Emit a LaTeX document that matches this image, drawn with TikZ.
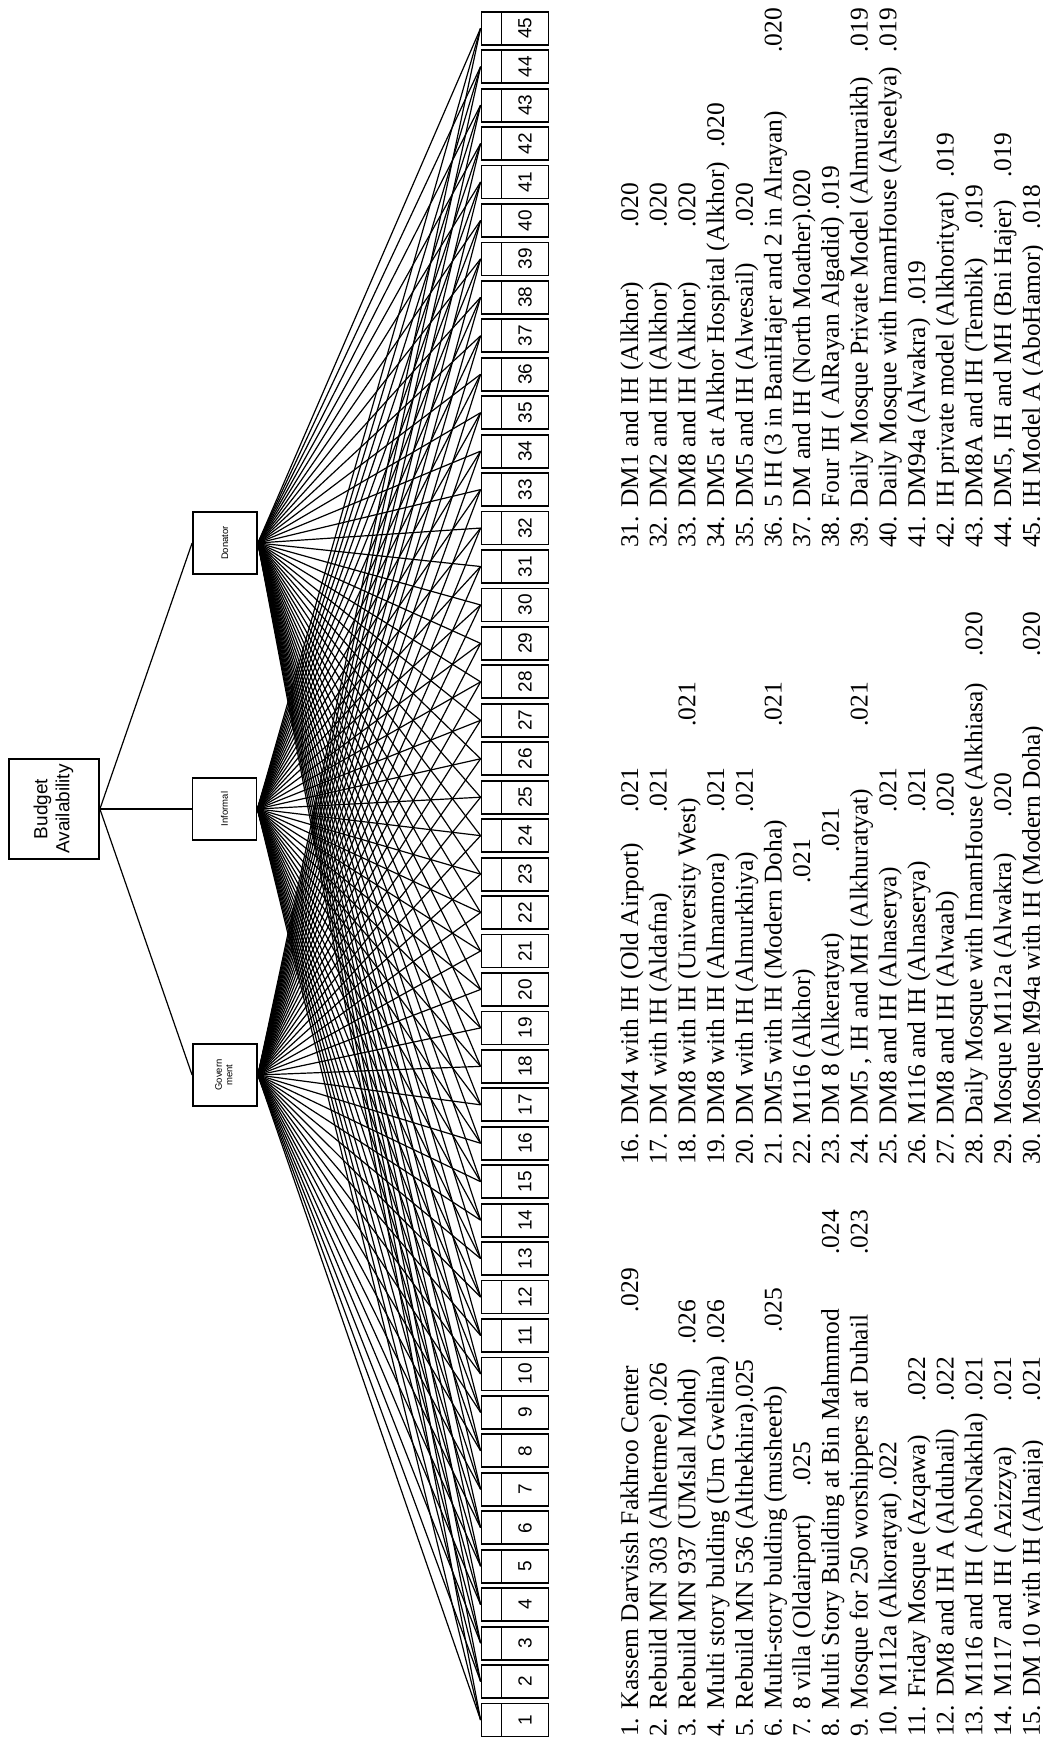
\documentclass[tikz,border=0pt]{standalone}
\usepackage{fontspec}
\usepackage{graphicx}
\setmainfont{Liberation Serif}
\newfontfamily\arialf{Liberation Sans}
\newcommand\rowtext[6]{\pgfmathsetmacro\ex{638+(#2-1)*28.7}\node[txt] (#1) at (\ex,#3) {#4};\node[txt] (#1v) at (\ex,#3-#5) {#6};}
\newcommand\rowtextA[4]{\pgfmathsetmacro\ex{638+(#2-1)*28.7}\node[txt] (#1) at (\ex,#3) {#4};}
\begin{document}
\begin{tikzpicture}[x=1pt,y=-1pt,
  cat/.style={draw,line width=1.8pt,inner sep=0pt,minimum width=64pt,minimum height=62pt,font=\arialf\fontsize{9.5}{10.5}\selectfont},
  ecell/.style={draw,line width=1.8pt,inner sep=0pt,minimum width=20pt,minimum height=33pt},
  ncell/.style={draw,line width=1.8pt,inner sep=0pt,minimum width=47pt,minimum height=33pt,font=\arialf\fontsize{19}{19}\selectfont},
  conn/.style={line width=1.2pt},
  txt/.style={rotate=90,anchor=base west,inner sep=0pt,font=\fontsize{25.5}{27}\selectfont}]
\fill[white] (0,0) rectangle (1043,1740);
\useasboundingbox (0,0) rectangle (1043,1740);

\node[cat,minimum width=90pt,minimum height=100pt,font=\arialf\fontsize{19}{22}\selectfont] (B) at (54,809) {\rotatebox{90}{\begin{tabular}{@{}c@{}}Budget\\Availability\end{tabular}}};
\node[cat] (D) at (225,543) {\rotatebox{90}{Donator}};
\node[cat] (I) at (224.5,809) {\rotatebox{90}{Informal}};
\node[cat] (G) at (225,1075) {\rotatebox{90}{\begin{tabular}{@{}c@{}}Govern\\ment\end{tabular}}};

\foreach \k in {1,...,45}{
  \pgfmathsetmacro\yy{1720-(\k-1)*38.45}
  \node[ecell] (e\k) at (491.5,\yy) {};
  \node[ncell] (n\k) at (525,\yy) {\rotatebox{90}{\k}};
}

\foreach \s in {D,I,G}{\draw[conn] (B.east) -- (\s.west);}
\foreach \s in {D,I,G}{\foreach \k in {1,...,45}{\draw[conn] (\s.east) -- (e\k.west);}}

% column 1
\rowtext{t1}{1}{1737}{1. Kassem Darvissh Fakhroo Center}{424}{.029}
\rowtextA{t2}{2}{1737}{2. Rebuild MN 303 (Alhetmee) .026}
\rowtext{t3}{3}{1737}{3. Rebuild MN 937 (UMslal Mohd)}{392}{.026}
\rowtext{t4}{4}{1737}{4. Multi story bulding (Um Gwelina)}{392}{.026}
\rowtextA{t5}{5}{1737}{5. Rebuild MN 536 (Althekhira).025}
\rowtext{t6}{6}{1737}{6. Multi-story bulding (musheerb)}{404}{.025}
\rowtext{t7}{7}{1737}{7. 8 villa (Oldairport)}{250}{.025}
\rowtext{t8}{8}{1737}{8. Multi Story Building at Bin Mahmmod}{482}{.024}
\rowtext{t9}{9}{1737}{9. Mosque for 250 worshippers at Duhail}{482}{.023}
\rowtextA{t10}{10}{1737}{10. M112a (Alkoratyat) .022}
\rowtext{t11}{11}{1737}{11. Friday Mosque (Azqawa)}{335}{.022}
\rowtext{t12}{12}{1737}{12. DM8 and IH A (Alduhail)}{335}{.022}
\rowtext{t13}{13}{1737}{13. M116 and IH ( AboNakhla)}{335}{.021}
\rowtext{t14}{14}{1737}{14. M117 and IH ( Azizzya)}{335}{.021}
\rowtext{t15}{15}{1737}{15. DM 10 with IH (Alnaija)}{335}{.021}
% column 2
\rowtext{t16}{1}{1165}{16. DM4 with IH (Old Airport)}{352}{.021}
\rowtext{t17}{2}{1165}{17. DM with IH (Aldafna)}{352}{.021}
\rowtext{t18}{3}{1165}{18. DM8 with IH (University West)}{438}{.021}
\rowtext{t19}{4}{1165}{19. DM8 with IH (Almamora)}{352}{.021}
\rowtext{t20}{5}{1165}{20. DM with IH (Almurkhiya)}{352}{.021}
\rowtext{t21}{6}{1165}{21. DM5 with IH (Modern Doha)}{438}{.021}
\rowtext{t22}{7}{1165}{22. M116 (Alkhor)}{281}{.021}
\rowtext{t23}{8}{1165}{23. DM 8 (Alkeratyat)}{312}{.021}
\rowtext{t24}{9}{1165}{24. DM5 , IH and MH (Alkhuratyat)}{438}{.021}
\rowtext{t25}{10}{1165}{25. DM8 and IH (Alnaserya)}{352}{.021}
\rowtext{t26}{11}{1165}{26. M116 and IH (Alnaserya)}{352}{.021}
\rowtext{t27}{12}{1165}{27. DM8 and IH (Alwaab)}{347}{.020}
\rowtext{t28}{13}{1165}{28. Daily Mosque with ImamHouse (Alkhiasa)}{508}{.020}
\rowtext{t29}{14}{1165}{29. Mosque M112a (Alwakra)}{347}{.020}
\rowtext{t30}{15}{1165}{30. Mosque M94a with IH (Modern Doha)}{508}{.020}
% column 3
\rowtext{t31}{1}{548}{31. DM1 and IH (Alkhor)}{320}{.020}
\rowtext{t32}{2}{548}{32. DM2 and IH (Alkhor)}{320}{.020}
\rowtext{t33}{3}{548}{33. DM8 and IH (Alkhor)}{320}{.020}
\rowtext{t34}{4}{548}{34. DM5 at Alkhor Hospital (Alkhor)}{400}{.020}
\rowtext{t35}{5}{548}{35. DM5 and IH (Alwesail)}{320}{.020}
\rowtext{t36}{6}{548}{36. 5 IH (3 in BaniHajer and 2 in Alrayan)}{495}{.020}
\rowtextA{t37}{7}{548}{37. DM and IH (North Moather).020}
\rowtextA{t38}{8}{548}{38. Four IH ( AlRayan Algadid) .019}
\rowtext{t39}{9}{548}{39. Daily Mosque Private Model (Almuraikh)}{495}{.019}
\rowtext{t40}{10}{548}{40. Daily Mosque with ImamHouse (Alseelya)}{495}{.019}
\rowtext{t41}{11}{548}{41. DM94a (Alwakra)}{242}{.019}
\rowtext{t42}{12}{548}{42. IH private model (Alkhorityat)}{370}{.019}
\rowtext{t43}{13}{548}{43. DM8A and IH (Tembik)}{318}{.019}
\rowtext{t44}{14}{548}{44. DM5, IH and MH (Bni Hajer)}{370}{.019}
\rowtext{t45}{15}{548}{45. IH Model A (AboHamor)}{318}{.018}
\end{tikzpicture}
\end{document}
